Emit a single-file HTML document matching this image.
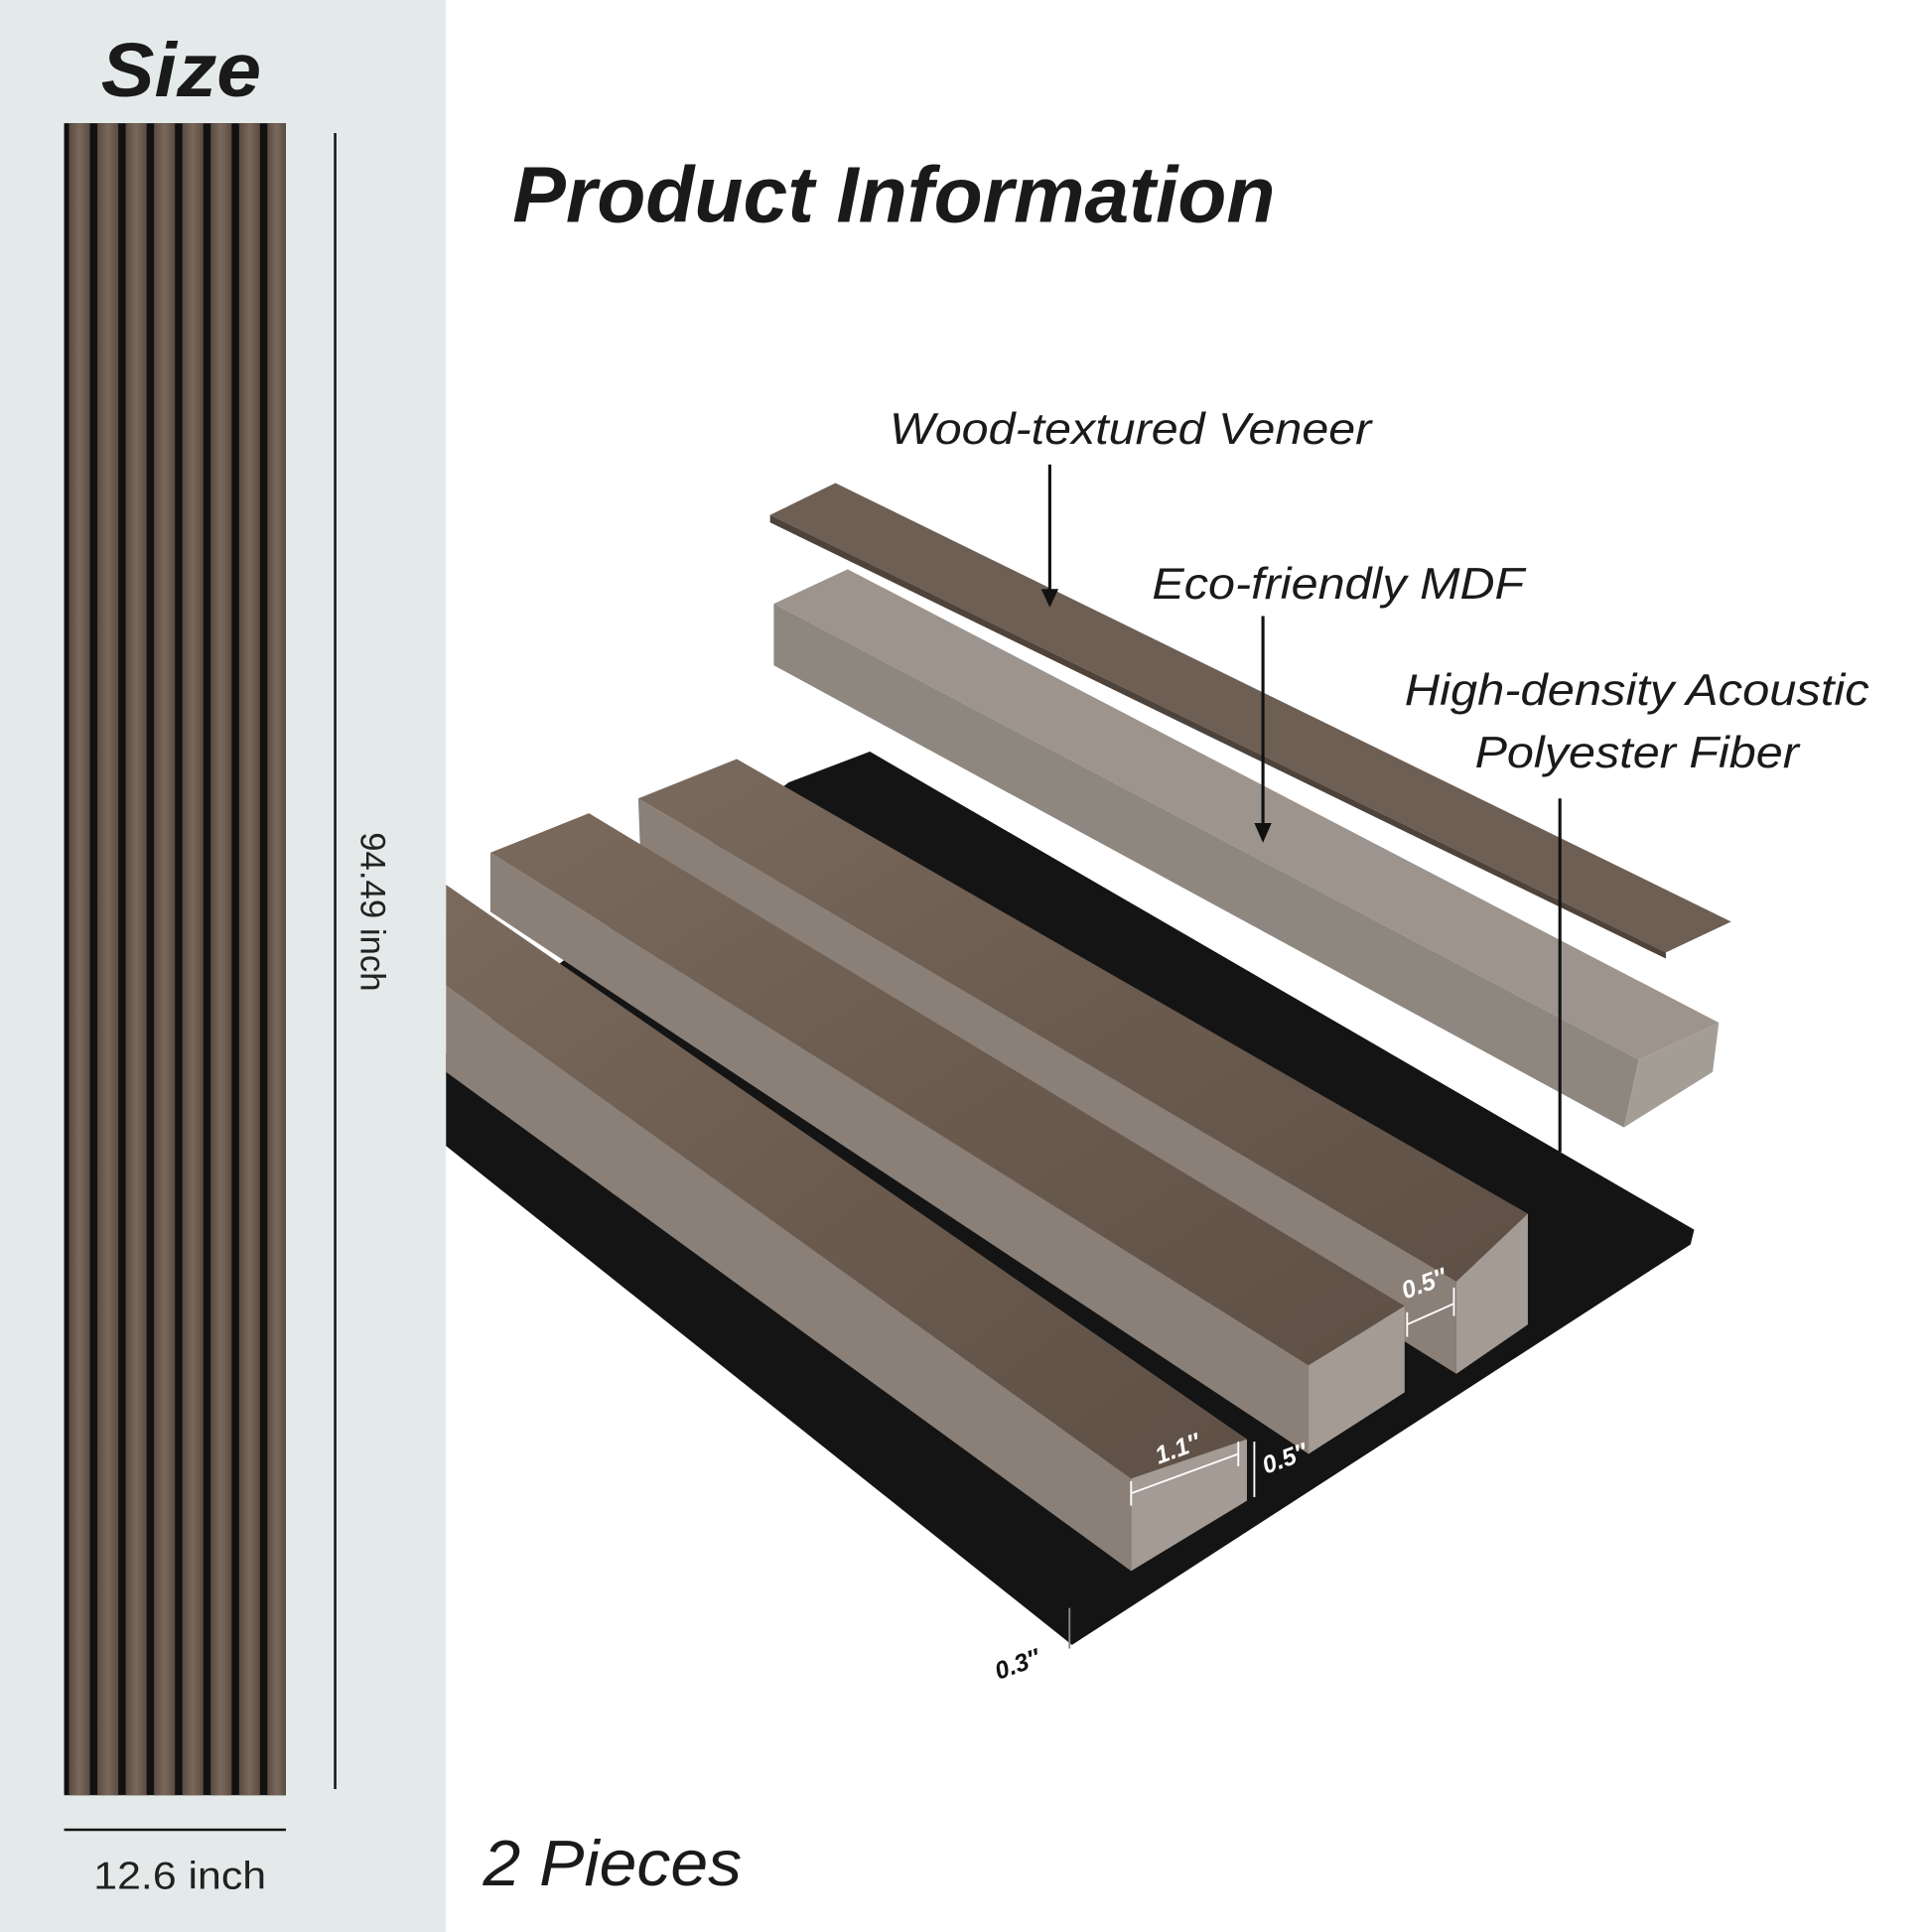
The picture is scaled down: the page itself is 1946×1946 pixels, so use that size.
<!DOCTYPE html>
<html><head><meta charset="utf-8"><style>
html,body{margin:0;padding:0;background:#fff;}
svg{display:block}
text{font-family:"Liberation Sans",sans-serif;}
</style></head><body>
<svg width="1946" height="1946" viewBox="0 0 1568 1568" xmlns="http://www.w3.org/2000/svg">
<defs>
<linearGradient id="wood" x1="0" y1="0" x2="1" y2="1">
<stop offset="0" stop-color="#7a6a5e"/><stop offset="0.5" stop-color="#6b5b4f"/><stop offset="1" stop-color="#5e5046"/>
</linearGradient>
<linearGradient id="slat" x1="0" y1="0" x2="1" y2="0">
<stop offset="0" stop-color="#5a4a40"/><stop offset="0.5" stop-color="#7a685b"/><stop offset="1" stop-color="#5a4a40"/>
</linearGradient>
</defs>
<rect x="0" y="0" width="362" height="1568" fill="#e4eaea"/>
<text x="82" y="78" font-size="62" font-weight="bold" font-style="italic" fill="#1a1a1a" textLength="130" lengthAdjust="spacingAndGlyphs">Size</text>
<rect x="52" y="100" width="180" height="1357" fill="#111"/>
<g fill="url(#slat)">
<rect x="56" y="100" width="17" height="1357"/>
<rect x="79" y="100" width="17" height="1357"/>
<rect x="102" y="100" width="17" height="1357"/>
<rect x="125" y="100" width="17" height="1357"/>
<rect x="148" y="100" width="17" height="1357"/>
<rect x="171" y="100" width="17" height="1357"/>
<rect x="194" y="100" width="17" height="1357"/>
<rect x="217" y="100" width="15" height="1357"/>
</g>
<line x1="272" y1="108" x2="272" y2="1452" stroke="#111" stroke-width="2"/>
<text x="0" y="0" font-size="28" fill="#222" text-anchor="middle" transform="translate(293,740) rotate(90)">94.49 inch</text>
<line x1="52" y1="1485" x2="232" y2="1485" stroke="#111" stroke-width="2"/>
<text x="76" y="1533" font-size="31" fill="#222" textLength="140" lengthAdjust="spacingAndGlyphs">12.6 inch</text>

<text x="416" y="180" font-size="64" font-weight="bold" font-style="italic" fill="#1a1a1a" textLength="619" lengthAdjust="spacingAndGlyphs">Product Information</text>
<text x="392" y="1530" font-size="52" font-style="italic" fill="#1a1a1a" textLength="210" lengthAdjust="spacingAndGlyphs">2 Pieces</text>

<!-- felt -->
<polygon points="640,635 706,610 1375,998 1372,1010 870,1335 362,930 362,855" fill="#141414"/>
<!-- veneer -->
<polygon points="625,418 678,392 1405,748 1352,773" fill="#6e5f54"/>
<polygon points="625,418 1352,773 1352,778 625,424" fill="#4e433b"/>
<!-- MDF -->
<polygon points="628,490 688,462 1395,830 1330,860" fill="#9c948d"/>
<polygon points="628,490 1330,860 1318,915 628,540" fill="#8e8780"/>
<polygon points="1330,860 1395,830 1390,870 1318,915" fill="#a49d96"/>
<!-- slat 3 -->
<polygon points="518,648 598,616 1240,985 1182,1040" fill="url(#wood)"/>
<polygon points="518,648 1182,1040 1182,1115 520,700" fill="#8a8078"/>
<polygon points="1182,1040 1240,985 1240,1075 1182,1115" fill="#a39b94"/>
<!-- slat 2 -->
<polygon points="398,692 478,660 1140,1060 1062,1108" fill="url(#wood)"/>
<polygon points="398,692 1062,1108 1062,1180 398,740" fill="#8a8078"/>
<polygon points="1062,1108 1140,1060 1140,1130 1062,1180" fill="#a39b94"/>
<!-- slat 1 -->
<polygon points="362,718 1012,1168 918,1200 362,800" fill="url(#wood)"/>
<polygon points="362,800 918,1200 918,1275 362,870" fill="#8a8078"/>
<polygon points="918,1200 1012,1168 1012,1218 918,1275" fill="#a39b94"/>

<!-- labels -->
<text x="722" y="360" font-size="36" font-style="italic" fill="#1a1a1a" textLength="391" lengthAdjust="spacingAndGlyphs">Wood-textured Veneer</text>
<line x1="852" y1="377" x2="852" y2="480" stroke="#111" stroke-width="2.5"/>
<polygon points="845,478 859,478 852,493" fill="#111"/>
<text x="935" y="486" font-size="36" font-style="italic" fill="#1a1a1a" textLength="302" lengthAdjust="spacingAndGlyphs">Eco-friendly MDF</text>
<line x1="1025" y1="500" x2="1025" y2="670" stroke="#111" stroke-width="2.5"/>
<polygon points="1018,668 1032,668 1025,684" fill="#111"/>
<text x="1140" y="572" font-size="36" font-style="italic" fill="#1a1a1a" textLength="377" lengthAdjust="spacingAndGlyphs">High-density Acoustic</text>
<text x="1197" y="623" font-size="36" font-style="italic" fill="#1a1a1a" textLength="263" lengthAdjust="spacingAndGlyphs">Polyester Fiber</text>
<line x1="1266" y1="648" x2="1266" y2="935" stroke="#111" stroke-width="2.5"/>

<!-- dimensions -->
<g stroke="#fff" stroke-width="1.5" fill="none">
<line x1="918" y1="1212" x2="1005" y2="1180"/><line x1="918" y1="1202" x2="918" y2="1222"/><line x1="1005" y1="1170" x2="1005" y2="1190"/>
<line x1="1018" y1="1170" x2="1018" y2="1215"/>
<line x1="1142" y1="1075" x2="1180" y2="1058"/><line x1="1142" y1="1065" x2="1142" y2="1085"/><line x1="1180" y1="1045" x2="1180" y2="1068"/>
</g>
<text x="958" y="1182" font-size="20" font-style="italic" font-weight="bold" fill="#fff" transform="rotate(-20 958 1182)" text-anchor="middle">1.1″</text>
<text x="1045" y="1190" font-size="20" font-style="italic" font-weight="bold" fill="#fff" transform="rotate(-20 1045 1190)" text-anchor="middle">0.5″</text>
<text x="1158" y="1048" font-size="20" font-style="italic" font-weight="bold" fill="#fff" transform="rotate(-20 1158 1048)" text-anchor="middle">0.5″</text>
<line x1="868" y1="1305" x2="868" y2="1338" stroke="#888" stroke-width="1.5"/>
<text x="828" y="1357" font-size="20" font-style="italic" font-weight="bold" fill="#111" transform="rotate(-20 828 1357)" text-anchor="middle">0.3″</text>
</svg>
</body></html>
